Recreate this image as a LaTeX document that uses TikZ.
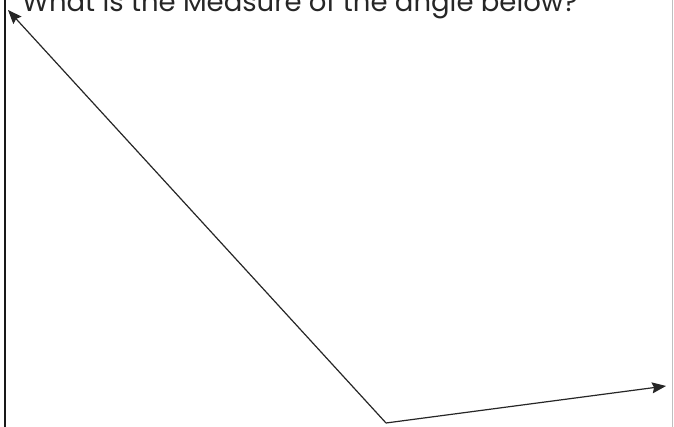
\documentclass[tikz,border=0pt]{standalone}
\usepackage{fontspec}
\setmainfont{Poppins}
\usetikzlibrary{arrows.meta}
\begin{document}
\begin{tikzpicture}[x=1pt,y=1pt,
  ray/.style={draw=black!85, line width=1.2pt, -{Stealth[length=14pt,width=11pt,inset=2pt]}},
  edge/.style={draw=black!90, line width=1.6pt}]
\useasboundingbox (0,0) rectangle (674,427);
\clip (0,0) rectangle (674,427);
\fill[white] (0,0) rectangle (674,427);
\coordinate (lt) at (5,427);
\coordinate (lb) at (5,0);
\coordinate (rt) at (672,427);
\coordinate (rb) at (672,0);
\draw[edge] (lb) -- (lt);
\draw[black!25, line width=1pt] (rb) -- (rt);
\node[anchor=base west, inner sep=0pt, font=\fontsize{27.5}{30}\selectfont, text=black!85] (title) at (22,415) {What is the Measure of the angle below?};
\coordinate (V) at (386,4);
\coordinate (A) at (8,417);
\coordinate (B) at (666,41);
\draw[ray] (V) -- (A);
\draw[ray] (V) -- (B);
\end{tikzpicture}
\end{document}
